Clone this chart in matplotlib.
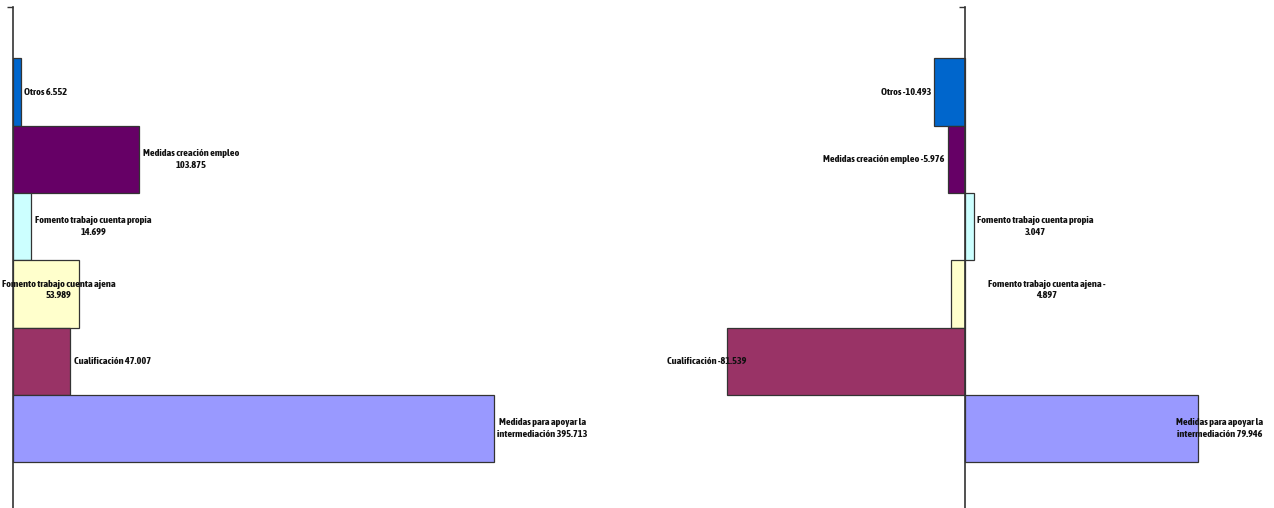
import matplotlib
matplotlib.use("Agg")
import matplotlib.pyplot as plt

# ---------------- data ----------------
categories = [
    "Otros",
    "Medidas creación empleo",
    "Fomento trabajo cuenta propia",
    "Fomento trabajo cuenta ajena",
    "Cualificación",
    "Medidas para apoyar la\nintermediación",
]
left_values = [6552, 103875, 14699, 53989, 47007, 395713]
right_values = [-10493, -5976, 3047, -4897, -81539, 79946]
colors = ["#0066CC", "#660066", "#CCFFFF", "#FFFFCC", "#993366", "#9999FF"]

# label wrapping: 'none' single line, 'value' value on 2nd line, 'sign' sign ends 1st line
left_wrap = ["none", "value", "value", "value", "none", "none"]
right_wrap = ["none", "none", "value", "sign", "none", "none"]

# label placement (pixel offsets from bar end, vertical shift up, horizontal alignment)
left_place = [(3, 0, "left"), (4, 0, "left"), (4, 0, "left"), (-20, 4, "center"), (4, 0, "left"), (3, 0, "left")]
right_place = [(-3, 0, "right"), (-3, 0, "right"), (3, 0, "left"), (96, 4, "center"), (19, 0, "right"), (22, 0, "center")]

# ---------------- helpers ----------------
def fmt(v):
    return f"{abs(v):,}".replace(",", ".")

def make_label(cat, v, wrap):
    sign = "-" if v < 0 else ""
    if wrap == "value":
        return f"{cat}\n{sign}{fmt(v)}"
    if wrap == "sign":
        return f"{cat} {sign}\n{fmt(v)}"
    return f"{cat} {sign}{fmt(v)}"

plt.rcParams["font.family"] = ["Asap Condensed", "DejaVu Sans"]

W, H = 1274, 508
fig = plt.figure(figsize=(W / 100, H / 100), dpi=100)

pos = list(range(len(categories)))
ylim = (6.18, -1.263)
ax_bottom = 0.0
ax_height = (H - 7) / H


def panel(ax, values, wrap, place):
    ax.barh(pos, values, height=1.0, color=colors, edgecolor="#333333", linewidth=0.9, zorder=2)
    ax.set_ylim(*ylim)
    for s in ["top", "right", "bottom"]:
        ax.spines[s].set_visible(False)
    ax.spines["left"].set_position(("data", 0))
    ax.spines["left"].set_color("#333333")
    ax.spines["left"].set_linewidth(1.2)
    ax.spines["left"].set_zorder(3)
    ax.set_xticks([])
    ax.set_yticks([ylim[1]])
    ax.set_yticklabels([])
    ax.tick_params(axis="y", length=4, width=1, color="#333333")
    for i, (cat, v) in enumerate(zip(categories, values)):
        dx, dy, ha = place[i]
        label = make_label(cat, v, wrap[i])
        ax.annotate(label, xy=(v, i), xytext=(dx, dy),
                    textcoords="offset pixels", ha=ha, va="center",
                    multialignment="center", linespacing=1.35,
                    fontsize=7.4, fontweight="bold", color="#111111", zorder=4,
                    annotation_clip=False)


# left panel: x=0 at pixel 13, 1.2156 px per thousand
lx0 = 13
lscale = 1.2156 / 1000
ax1 = fig.add_axes([lx0 / W, ax_bottom, (620 - lx0) / W, ax_height])
ax1.patch.set_alpha(0)
ax1.set_xlim(0, (620 - lx0) / lscale)
panel(ax1, left_values, left_wrap, left_place)

# right panel: x=0 at pixel 965, 2.914 px per thousand
rx_left, rx_zero, rx_right = 640, 965, 1274
rscale = 2.914 / 1000
ax2 = fig.add_axes([rx_left / W, ax_bottom, (rx_right - rx_left) / W, ax_height])
ax2.patch.set_alpha(0)
ax2.set_xlim(-(rx_zero - rx_left) / rscale, (rx_right - rx_zero) / rscale)
panel(ax2, right_values, right_wrap, right_place)

fig.savefig("out.png", dpi=100)
